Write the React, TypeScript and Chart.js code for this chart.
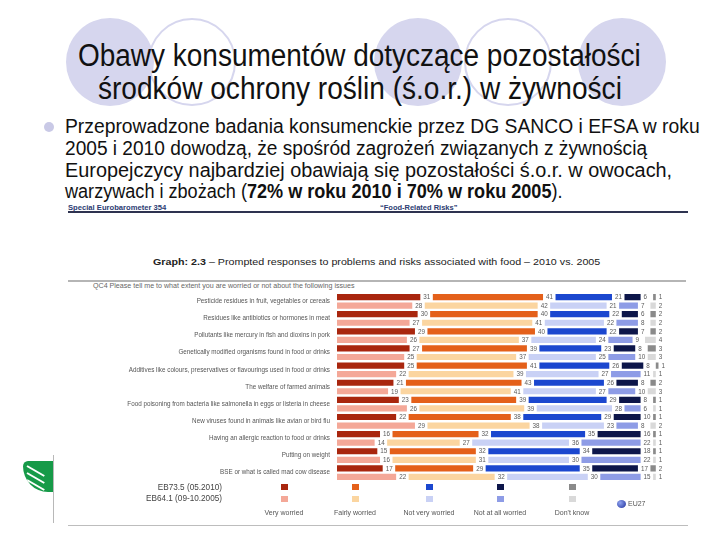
import React, { useEffect, useLayoutEffect, useRef } from "react";
import { Chart, registerables } from "chart.js";

Chart.register(...registerables);

// ---------- DATA ----------
const categories = [
  "Pesticide residues in fruit, vegetables or cereals",
  "Residues like antibiotics or hormones in meat",
  "Pollutants like mercury in fish and dioxins in pork",
  "Genetically modified organisms found in food or drinks",
  "Additives like colours, preservatives or flavourings used in food or drinks",
  "The welfare of farmed animals",
  "Food poisoning from bacteria like salmonella in eggs or listeria in cheese",
  "New viruses found in animals like avian or bird flu",
  "Having an allergic reaction to food or drinks",
  "Putting on weight",
  "BSE or what is called mad cow disease",
];
const responses = ["Very worried", "Fairly worried", "Not very worried", "Not at all worried", "Don't know"];
const waves = ["EB73.5 (05.2010)", "EB64.1 (09-10.2005)"];

const veryWorried2010 = [31, 30, 29, 27, 25, 21, 23, 22, 16, 15, 17];
const fairlyWorried2010 = [41, 40, 40, 39, 41, 43, 39, 38, 32, 32, 29];
const notVeryWorried2010 = [21, 22, 22, 23, 26, 26, 29, 29, 35, 34, 35];
const notAtAllWorried2010 = [6, 6, 7, 8, 8, 8, 8, 10, 16, 18, 17];
const dontKnow2010 = [1, 2, 2, 3, 1, 2, 1, 1, 1, 1, 2];

const veryWorried2005 = [28, 27, 26, 25, 22, 19, 26, 29, 14, 16, 22];
const fairlyWorried2005 = [42, 41, 37, 37, 39, 41, 39, 38, 27, 31, 32];
const notVeryWorried2005 = [21, 22, 24, 25, 27, 27, 28, 23, 36, 30, 30];
const notAtAllWorried2005 = [7, 8, 9, 10, 11, 10, 6, 8, 22, 22, 15];
const dontKnow2005 = [2, 2, 4, 3, 1, 3, 1, 2, 1, 1, 1];

const colors2010 = ["#A9260E", "#E4601A", "#1B47CF", "#0D164A", "#8A8A8A"];
const colors2005 = ["#F4A898", "#FBD5A0", "#C9D1F5", "#8E9CE6", "#D9D9D9"];

// ---------- STYLE CONSTANTS ----------
const FONT = '"Liberation Sans", Arial, Helvetica, sans-serif';
const GAP = 4.65; // spacing (in axis units) left between segments for their labels
const legendX = [284, 355, 429, 500, 572];

const series2010 = [veryWorried2010, fairlyWorried2010, notVeryWorried2010, notAtAllWorried2010, dontKnow2010];
const series2005 = [veryWorried2005, fairlyWorried2005, notVeryWorried2005, notAtAllWorried2005, dontKnow2005];

function buildDatasets() {
  const ds: any[] = [];
  const groups: [number[][], string[], string][] = [
    [series2010, colors2010, "2010"],
    [series2005, colors2005, "2005"],
  ];
  groups.forEach(([ser, cols, st]) => {
    ser.forEach((vals, k) => {
      if (k > 0) {
        ds.push({
          label: "gap",
          data: categories.map(() => GAP),
          backgroundColor: "rgba(0,0,0,0)",
          stack: st,
          isGap: true,
          barPercentage: 0.72,
          categoryPercentage: 1,
        });
      }
      ds.push({
        label: `${responses[k]} ${st}`,
        data: vals,
        backgroundColor: cols[k],
        stack: st,
        barPercentage: 0.72,
        categoryPercentage: 1,
      });
    });
  });
  return ds;
}

const valueLabels = {
  id: "valueLabels",
  afterDatasetsDraw(chart: any) {
    const ctx = chart.ctx;
    ctx.save();
    ctx.font = `6.3px ${FONT}`;
    ctx.fillStyle = "#5a5a5a";
    ctx.textBaseline = "middle";
    chart.data.datasets.forEach((d: any, i: number) => {
      if (d.isGap) return;
      const meta = chart.getDatasetMeta(i);
      meta.data.forEach((el: any, j: number) => {
        ctx.fillText(String(d.data[j]), el.x + 3, el.y + 0.5);
      });
    });
    ctx.restore();
  },
};

function Fit(props: any) {
  const { left, top, width, size, weight = 400, color = "#000", children, family = FONT } = props;
  const ref = useRef<HTMLDivElement>(null);
  useLayoutEffect(() => {
    const el = ref.current;
    if (!el) return;
    const apply = () => {
      el.style.transform = "translateY(-50%)";
      const w = el.offsetWidth;
      if (w > 0) el.style.transform = `translateY(-50%) scaleX(${width / w})`;
    };
    apply();
    const f = (document as any).fonts;
    if (f && f.ready) f.ready.then(apply);
  }, [width]);
  return (
    <div
      ref={ref}
      style={{
        position: "absolute",
        left,
        top,
        whiteSpace: "nowrap",
        fontFamily: family,
        fontSize: size,
        fontWeight: weight,
        color,
        lineHeight: 1,
        transformOrigin: "0 50%",
      }}
    >
      {children}
    </div>
  );
}

function Circle({ cx, cy, r, filled }: any) {
  return (
    <div
      style={{
        position: "absolute",
        left: cx - r,
        top: cy - r,
        width: r * 2,
        height: r * 2,
        borderRadius: "50%",
        boxSizing: "border-box",
        background: filled ? "#D6D6EE" : "transparent",
        border: filled ? "none" : "2px solid #D6D6EE",
      }}
    />
  );
}

export default function App() {
  const canvasRef = useRef<HTMLCanvasElement>(null);

  useEffect(() => {
    document.body.style.margin = "0";
    const chart = new Chart(canvasRef.current as HTMLCanvasElement, {
      type: "bar",
      data: { labels: categories, datasets: buildDatasets() },
      options: {
        indexAxis: "y",
        animation: false,
        responsive: false,
        events: [],
        layout: { padding: { top: 10.4, bottom: 10.4, left: 0, right: 17 } },
        plugins: { legend: { display: false }, tooltip: { enabled: false } },
        scales: {
          x: { stacked: true, min: 0, max: 125, display: false },
          y: {
            stacked: true,
            grid: { display: false, drawTicks: false },
            border: { display: false },
            ticks: { autoSkip: false, padding: 7, color: "#555", font: { size: 6.3, family: FONT } },
            afterFit: (s: any) => {
              s.width = 277;
            },
          },
        },
      } as any,
      plugins: [valueLabels],
    });
    return () => chart.destroy();
  }, []);

  return (
    <div
      style={{
        position: "fixed",
        left: 0,
        top: 0,
        width: 720,
        height: 540,
        background: "#fff",
        overflow: "hidden",
        fontFamily: FONT,
      }}
    >
      {/* decorative circles */}
      <Circle cx={110} cy={62} r={44} filled />
      <Circle cx={192} cy={62} r={44} />
      <Circle cx={418} cy={62} r={44} filled />
      <Circle cx={508} cy={62} r={44} />
      <Circle cx={622} cy={62} r={44} filled />

      {/* title */}
      <Fit left={78} top={55} width={563} size={31} color="#111">
        Obawy konsumentów dotyczące pozostałości
      </Fit>
      <Fit left={98} top={88} width={524} size={31} color="#111">
        środków ochrony roślin (ś.o.r.) w żywności
      </Fit>

      {/* bullet */}
      <div
        style={{
          position: "absolute",
          left: 44,
          top: 122,
          width: 10,
          height: 10,
          borderRadius: "50%",
          background: "#C9C9E6",
        }}
      />
      <Fit left={65} top={127} width={635} size={19.5} color="#111">
        Przeprowadzone badania konsumenckie przez DG SANCO i EFSA w roku
      </Fit>
      <Fit left={65} top={149} width={582} size={19.5} color="#111">
        2005 i 2010 dowodzą, że spośród zagrożeń związanych z żywnością
      </Fit>
      <Fit left={65} top={171} width={607} size={19.5} color="#111">
        Europejczycy najbardziej obawiają się pozostałości ś.o.r. w owocach,
      </Fit>
      <Fit left={65} top={192} width={498} size={19.5} color="#111">
        warzywach i zbożach (<b>72% w roku 2010 i 70% w roku 2005</b>).
      </Fit>

      {/* chart page header */}
      <Fit left={68} top={207} width={98} size={7} weight={700} color="#2B3C72">
        Special Eurobarometer 354
      </Fit>
      <Fit left={380} top={207} width={77} size={7} weight={700} color="#2B3C72">
        “Food-Related Risks”
      </Fit>
      <div style={{ position: "absolute", left: 68, top: 211, width: 620, height: 1.5, background: "#2E3350" }} />

      <Fit left={153} top={262} width={447} size={9} color="#222">
        <b>Graph: 2.3</b> – Prompted responses to problems and risks associated with food – 2010 vs. 2005
      </Fit>
      <div style={{ position: "absolute", left: 68, top: 280, width: 618, height: 2, background: "#B5B5B5" }} />
      <Fit left={93} top={286} width={262} size={6.5} color="#666">
        QC4 Please tell me to what extent you are worried or not about the following issues
      </Fit>

      {/* chart */}
      <div style={{ position: "absolute", left: 60, top: 282, width: 630, height: 210 }}>
        <canvas ref={canvasRef} width={630} height={210} />
      </div>

      {/* legend */}
      {waves.map((w, i) => (
        <div
          key={w}
          style={{
            position: "absolute",
            right: 720 - 222,
            top: (i === 0 ? 488 : 499) - 5,
            fontSize: 8.2,
            lineHeight: "10px",
            color: "#444",
            whiteSpace: "nowrap",
          }}
        >
          {w}
        </div>
      ))}
      {responses.map((r, k) => (
        <React.Fragment key={r}>
          <div
            style={{
              position: "absolute",
              left: legendX[k] - 3.5,
              top: 484,
              width: 7,
              height: 6,
              background: colors2010[k],
            }}
          />
          <div
            style={{
              position: "absolute",
              left: legendX[k] - 3.5,
              top: 496,
              width: 7,
              height: 6,
              background: colors2005[k],
            }}
          />
          <div
            style={{
              position: "absolute",
              left: legendX[k] - 40,
              width: 80,
              top: 508,
              textAlign: "center",
              fontSize: 7,
              lineHeight: "10px",
              color: "#555",
            }}
          >
            {r}
          </div>
        </React.Fragment>
      ))}
      <div
        style={{
          position: "absolute",
          left: 617,
          top: 500,
          width: 9,
          height: 8,
          borderRadius: "50%",
          background: "radial-gradient(circle at 35% 35%, #8FA3F0, #1E2F9A)",
        }}
      />
      <div style={{ position: "absolute", left: 628, top: 499, fontSize: 7, lineHeight: "10px", color: "#555" }}>
        EU27
      </div>

      {/* frame lines & logo */}
      <div style={{ position: "absolute", left: 68, top: 525, width: 620, height: 1, background: "#BDBDBD" }} />
      <div style={{ position: "absolute", left: 53, top: 455, width: 1, height: 68, background: "#B8B8B8" }} />
      <div
        style={{
          position: "absolute",
          left: 23,
          top: 461,
          width: 30,
          height: 31,
          overflow: "hidden",
          background: "#169A48",
          borderRadius: "20% 0 0 100%",
        }}
      >
        {[4, 11, 18].map((t) => (
          <div
            key={t}
            style={{
              position: "absolute",
              left: 4,
              top: t,
              width: 20,
              height: 2,
              background: "#fff",
              transform: "rotate(30deg)",
              transformOrigin: "0 50%",
            }}
          />
        ))}
      </div>
    </div>
  );
}
